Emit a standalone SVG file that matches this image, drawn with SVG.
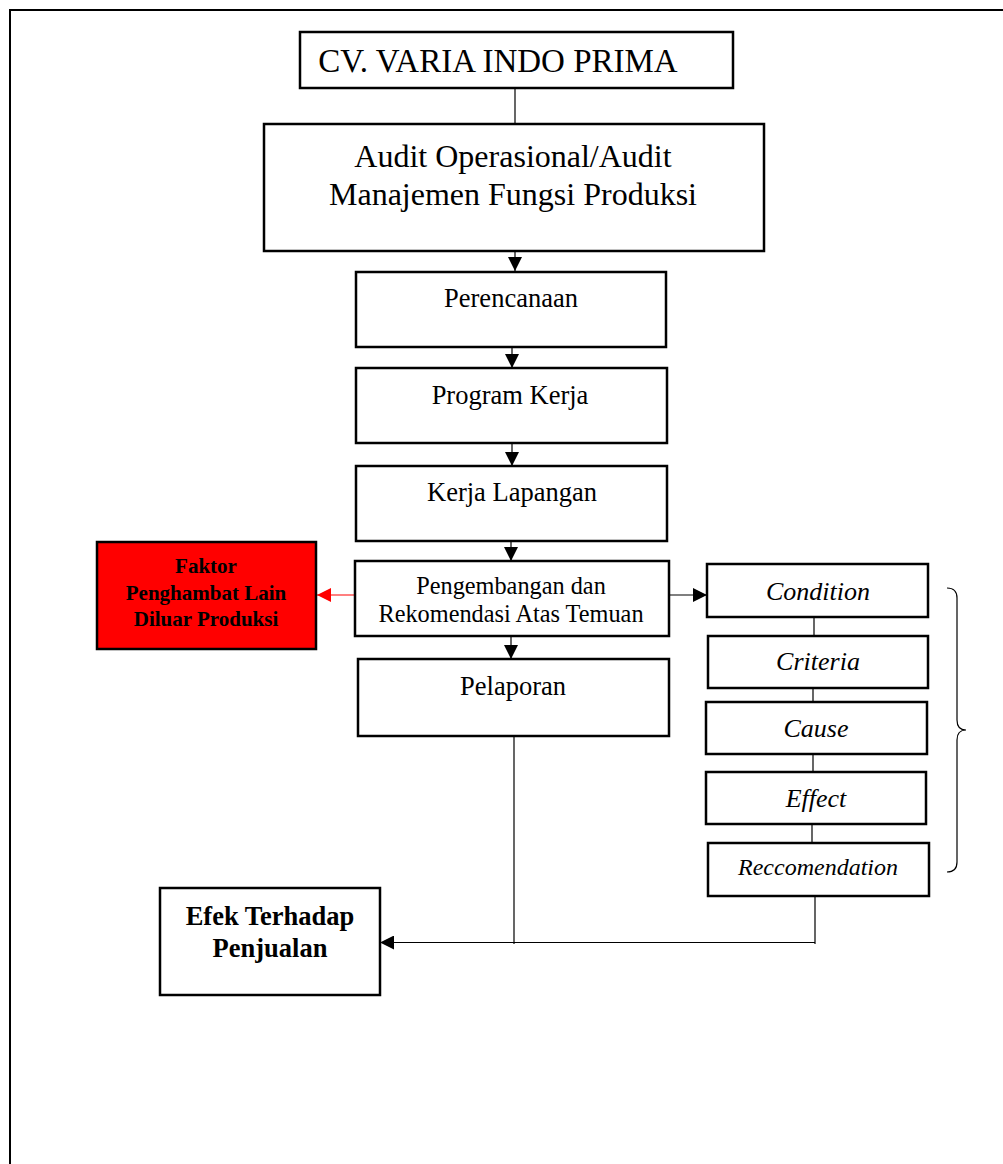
<svg xmlns="http://www.w3.org/2000/svg" width="1003" height="1164" viewBox="0 0 1003 1164">
<style>
  .box { fill: #ffffff; stroke: #000000; stroke-width: 2.5; }
  .red { fill: #ff0000; stroke: #000000; stroke-width: 2.5; }
  .ln { fill: none; stroke: #000000; stroke-width: 1.2; }
  .rln { fill: none; stroke: #ff0000; stroke-width: 1.2; }
  .frame { fill: none; stroke: #000000; stroke-width: 2; }
  text { font-family: "Liberation Serif", "Times New Roman", serif; fill: #000000; text-anchor: middle; }
  .big { font-size: 33px; }
  .mid { font-size: 32px; }
  .std { font-size: 26.5px; }
  .sm { font-size: 24.3px; }
  .bred { font-size: 21px; font-weight: bold; }
  .it { font-size: 26px; font-style: italic; }
  .it2 { font-size: 24px; font-style: italic; }
  .bb { font-size: 26.5px; font-weight: bold; }
</style>
<defs>
  <marker id="ah" viewBox="0 0 14 14" refX="14" refY="7" markerWidth="14" markerHeight="14" markerUnits="userSpaceOnUse" orient="auto">
    <path d="M0,0 L14,7 L0,14 z" fill="#000000"/>
  </marker>
  <marker id="ahr" viewBox="0 0 14 14" refX="14" refY="7" markerWidth="14" markerHeight="14" markerUnits="userSpaceOnUse" orient="auto">
    <path d="M0,0 L14,7 L0,14 z" fill="#ff0000"/>
  </marker>
</defs>
<rect width="1003" height="1164" fill="#ffffff"/>
<path class="frame" d="M10,1164 L10,10 L1003,10"/>

<g id="connectors">
  <line class="ln" x1="515" y1="89" x2="515" y2="124"/>
  <line class="ln" x1="515" y1="252" x2="515" y2="271" marker-end="url(#ah)"/>
  <line class="ln" x1="512" y1="347" x2="512" y2="368" marker-end="url(#ah)"/>
  <line class="ln" x1="512" y1="443" x2="512" y2="466" marker-end="url(#ah)"/>
  <line class="ln" x1="511" y1="541" x2="511" y2="561" marker-end="url(#ah)"/>
  <line class="ln" x1="511" y1="636" x2="511" y2="659" marker-end="url(#ah)"/>
  <line class="rln" x1="355" y1="595" x2="317" y2="595" marker-end="url(#ahr)"/>
  <line class="ln" x1="669" y1="595" x2="707" y2="595" marker-end="url(#ah)"/>
  <line class="ln" x1="814" y1="617" x2="814" y2="636"/>
  <line class="ln" x1="813" y1="688" x2="813" y2="702"/>
  <line class="ln" x1="813" y1="754" x2="813" y2="772"/>
  <line class="ln" x1="812" y1="824" x2="812" y2="843"/>
  <line class="ln" x1="514" y1="736" x2="514" y2="944"/>
  <path class="ln" d="M815,896 L815,944 M815,942.5 L380,942.5" marker-end="url(#ah)"/>
  <path class="ln" d="M947,588 Q957,588 957,598 L957,720 Q957,730 966,730 Q957,730 957,740 L957,862 Q957,872 947,872"/>
</g>

<g id="node-cv">
  <rect class="box" x="300" y="32" width="433" height="56"/>
  <text class="big" x="498" y="72">CV. VARIA INDO PRIMA</text>
</g>
<g id="node-audit">
  <rect class="box" x="264" y="124" width="500" height="127"/>
  <text class="mid" x="513" y="167">Audit Operasional/Audit</text>
  <text class="mid" x="513" y="205">Manajemen Fungsi Produksi</text>
</g>
<g id="node-perencanaan">
  <rect class="box" x="356" y="272" width="310" height="75"/>
  <text class="std" x="511" y="307">Perencanaan</text>
</g>
<g id="node-program">
  <rect class="box" x="356" y="368" width="311" height="75"/>
  <text class="std" x="510" y="404">Program Kerja</text>
</g>
<g id="node-kerja">
  <rect class="box" x="356" y="466" width="311" height="75"/>
  <text class="std" x="512" y="501">Kerja Lapangan</text>
</g>
<g id="node-pengembangan">
  <rect class="box" x="355" y="561" width="314" height="75"/>
  <text class="sm" x="511" y="594">Pengembangan dan</text>
  <text class="sm" x="511" y="622">Rekomendasi Atas Temuan</text>
</g>
<g id="node-faktor">
  <rect class="red" x="97" y="542" width="219" height="107"/>
  <text class="bred" x="206" y="573">Faktor</text>
  <text class="bred" x="206" y="600">Penghambat Lain</text>
  <text class="bred" x="206" y="626">Diluar Produksi</text>
</g>
<g id="node-pelaporan">
  <rect class="box" x="358" y="659" width="311" height="77"/>
  <text class="std" x="513" y="695">Pelaporan</text>
</g>
<g id="node-condition">
  <rect class="box" x="707" y="564" width="221" height="53"/>
  <text class="it" x="818" y="600">Condition</text>
</g>
<g id="node-criteria">
  <rect class="box" x="708" y="636" width="220" height="52"/>
  <text class="it" x="818" y="670">Criteria</text>
</g>
<g id="node-cause">
  <rect class="box" x="706" y="702" width="221" height="52"/>
  <text class="it" x="816" y="737">Cause</text>
</g>
<g id="node-effect">
  <rect class="box" x="706" y="772" width="220" height="52"/>
  <text class="it" x="816" y="807">Effect</text>
</g>
<g id="node-reccomendation">
  <rect class="box" x="708" y="843" width="221" height="53"/>
  <text class="it2" x="818" y="875">Reccomendation</text>
</g>
<g id="node-efek">
  <rect class="box" x="160" y="888" width="220" height="107"/>
  <text class="bb" x="270" y="925">Efek Terhadap</text>
  <text class="bb" x="270" y="957">Penjualan</text>
</g>
</svg>
